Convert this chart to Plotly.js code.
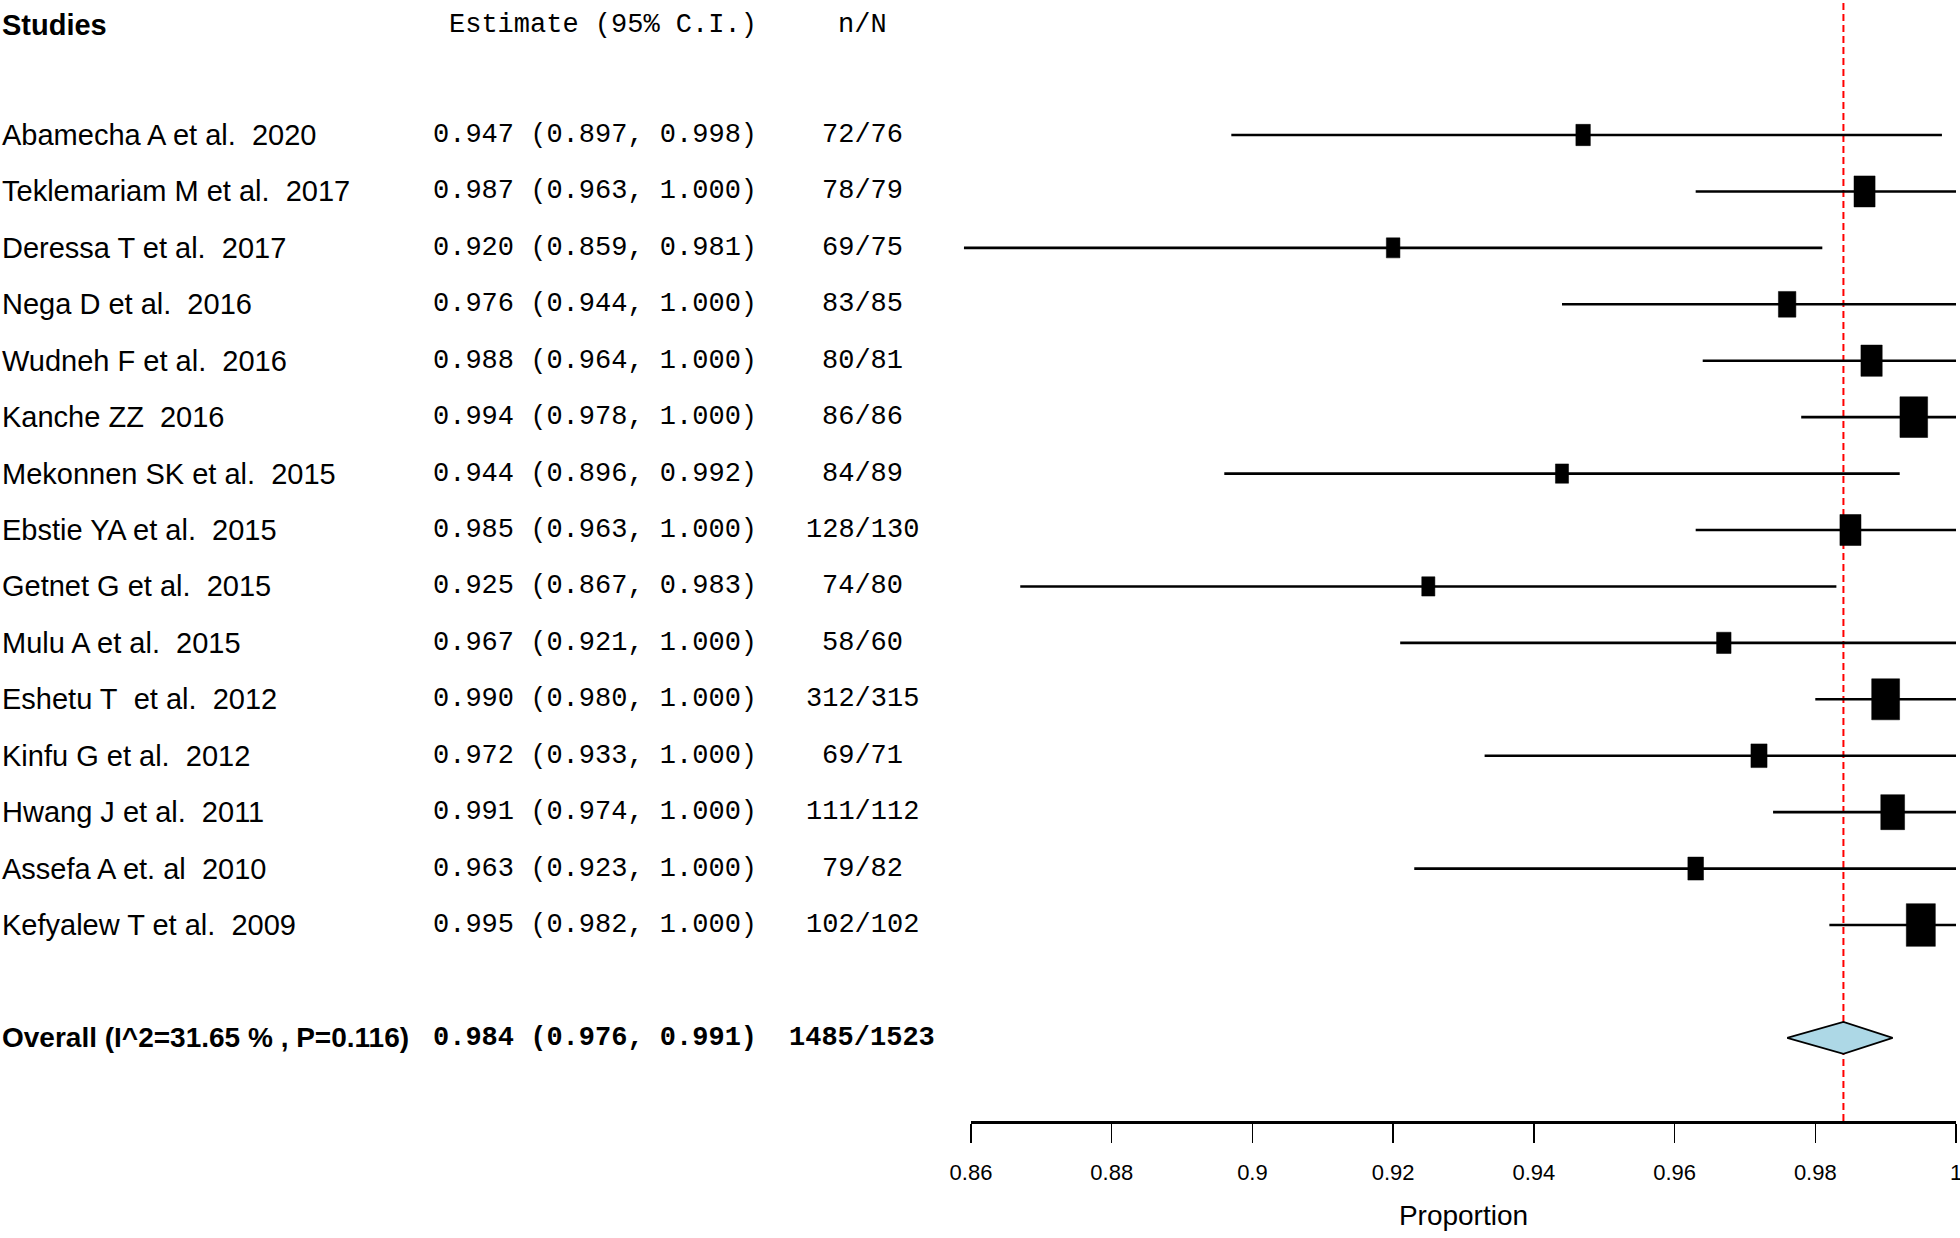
<!DOCTYPE html>
<html>
<head>
<meta charset="utf-8">
<script src="https://cdn.plot.ly/plotly-3.0.1.min.js"></script>
<style>
html, body { margin: 0; padding: 0; background: #ffffff; }
#chart { width: 1960px; height: 1238px; }
</style>
</head>
<body>
<div id="chart"></div>
<script>
// ---------------- data ----------------
const studies = [
  "Abamecha A et al.\u00a0 2020",
  "Teklemariam M et al.\u00a0 2017",
  "Deressa T et al.\u00a0 2017",
  "Nega D et al.\u00a0 2016",
  "Wudneh F et al.\u00a0 2016",
  "Kanche ZZ\u00a0 2016",
  "Mekonnen SK et al.\u00a0 2015",
  "Ebstie YA et al.\u00a0 2015",
  "Getnet G et al.\u00a0 2015",
  "Mulu A et al.\u00a0 2015",
  "Eshetu T\u00a0 et al.\u00a0 2012",
  "Kinfu G et al.\u00a0 2012",
  "Hwang J et al.\u00a0 2011",
  "Assefa A et. al\u00a0 2010",
  "Kefyalew T et al.\u00a0 2009"
];
const estimate = [0.947, 0.987, 0.920, 0.976, 0.988, 0.994, 0.944, 0.985, 0.925, 0.967, 0.990, 0.972, 0.991, 0.963, 0.995];
const lower    = [0.897, 0.963, 0.859, 0.944, 0.964, 0.978, 0.896, 0.963, 0.867, 0.921, 0.980, 0.933, 0.974, 0.923, 0.982];
const upper    = [0.998, 1.000, 0.981, 1.000, 1.000, 1.000, 0.992, 1.000, 0.983, 1.000, 1.000, 1.000, 1.000, 1.000, 1.000];
const events   = [72, 78, 69, 83, 80, 86, 84, 128, 74, 58, 312, 69, 111, 79, 102];
const totals   = [76, 79, 75, 85, 81, 86, 89, 130, 80, 60, 315, 71, 112, 82, 102];
// relative study weight (box size)
const boxWeight = [21.3, 31, 20, 25.7, 31.3, 40.7, 19.3, 31, 19.3, 21.3, 41, 23.7, 35, 23, 42.7];

const overallLabel = "Overall (I^2=31.65 % , P=0.116)";
const overallEst = 0.984;
const overallLo = 0.976;
const overallHi = 0.991;
const overallEvents = 1485;
const overallTotal = 1523;

const tickVals = [0.86, 0.88, 0.90, 0.92, 0.94, 0.96, 0.98, 1.00];
const tickText = ["0.86", "0.88", "0.9", "0.92", "0.94", "0.96", "0.98", "1"];

const headerStudies = "Studies";
const headerEstimate = "Estimate (95% C.I.)";
const headerN = "n/N";
const xTitle = "Proportion";

// ---------------- layout helpers (styles / positions) ----------------
const W = 1960, H = 1238;
const rows = studies.map((_, i) => i + 1);
const overallRow = studies.length + 2;
const headerRow = -0.95;

const sans = "Liberation Sans, Arial, Helvetica, sans-serif";
const mono = "Liberation Mono, Courier New, DejaVu Sans Mono, monospace";

const fmt = v => v.toFixed(3);
const estText = (e, l, u) => fmt(e) + " (" + fmt(l) + ", " + fmt(u) + ")";

// pixel mapping
const px0 = 971, px1 = 1956;            // 0.86 and 1.0
const pxPerUnit = (px1 - px0) / 0.14;
const xMin = 0.86 - px0 / pxPerUnit;
const xMax = 0.86 + (W - px0) / pxPerUnit;
const rowPx = 56.43, row1Px = 135, axisPx = 1121;
const yTop = 1 - row1Px / rowPx;
const yBot = 1 + (axisPx - row1Px) / rowPx;
const yDomBottom = (H - axisPx) / H;

// CI lines
const ciX = [], ciY = [];
for (let i = 0; i < studies.length; i++) {
  ciX.push(lower[i], upper[i], null);
  ciY.push(rows[i], rows[i], null);
}
const ciTrace = {
  type: "scatter", mode: "lines", x: ciX, y: ciY, xaxis: "x", yaxis: "y",
  line: { color: "#000000", width: 2.6 }, hoverinfo: "skip", showlegend: false
};

// weight boxes (rectangles, taller than wide, size from study weight)
const boxX = [], boxY = [];
for (let i = 0; i < studies.length; i++) {
  const hw = boxWeight[i] * 0.68 / 2 / pxPerUnit;
  const hh = boxWeight[i] / 2 / rowPx;
  const e = estimate[i], r = rows[i];
  boxX.push(e - hw, e + hw, e + hw, e - hw, e - hw, null);
  boxY.push(r - hh, r - hh, r + hh, r + hh, r - hh, null);
}
const boxTrace = {
  type: "scatter", mode: "lines", x: boxX, y: boxY, xaxis: "x", yaxis: "y",
  fill: "toself", fillcolor: "#000000",
  line: { color: "#000000", width: 0.5 },
  hoverinfo: "skip", showlegend: false
};

const dh = 16 / rowPx;
const diamondTrace = {
  type: "scatter", mode: "lines", xaxis: "x2", yaxis: "y",
  x: [overallLo, overallEst, overallHi, overallEst, overallLo],
  y: [overallRow, overallRow - dh, overallRow, overallRow + dh, overallRow],
  fill: "toself", fillcolor: "#add8e6",
  line: { color: "#000000", width: 1.6 },
  hoverinfo: "skip", showlegend: false
};

const annotations = [];
function addText(text, xPx, row, anchor, font) {
  annotations.push({
    text: text, xref: "paper", yref: "y", x: xPx / W, y: row,
    xanchor: anchor, yanchor: "middle", showarrow: false, font: font
  });
}
const nameFont = { family: sans, size: 29, color: "#000000" };
const overallFont = { family: sans, size: 28, color: "#000000" };
const monoFont = { family: mono, size: 27, color: "#000000" };

addText("<b>" + headerStudies + "</b>", 0, headerRow, "left", nameFont);
addText(headerEstimate, 759, headerRow, "right", monoFont);
addText(headerN, 862, headerRow, "center", monoFont);
for (let i = 0; i < studies.length; i++) {
  addText(studies[i], 0, rows[i], "left", nameFont);
  addText(estText(estimate[i], lower[i], upper[i]), 759, rows[i], "right", monoFont);
  addText(events[i] + "/" + totals[i], 862, rows[i], "center", monoFont);
}
addText("<b>" + overallLabel + "</b>", 0, overallRow, "left", overallFont);
addText("<b>" + estText(overallEst, overallLo, overallHi) + "</b>", 759, overallRow, "right", monoFont);
addText("<b>" + overallEvents + "/" + overallTotal + "</b>", 862, overallRow, "center", monoFont);

const layout = {
  width: W, height: H,
  margin: { l: 0, r: 0, t: 0, b: 0, pad: 0 },
  paper_bgcolor: "#ffffff",
  plot_bgcolor: "rgba(0,0,0,0)",
  showlegend: false,
  xaxis: {
    domain: [0, 1], range: [xMin, xMax], anchor: "y",
    visible: false, fixedrange: true
  },
  xaxis2: {
    domain: [px0 / W, px1 / W], range: [0.86, 1.0], anchor: "y",
    showline: true, linecolor: "#000000", linewidth: 2.5,
    ticks: "outside", ticklen: 19, tickwidth: 1.5, tickcolor: "#000000",
    tickmode: "array", tickvals: tickVals, ticktext: tickText,
    tickfont: { family: sans, size: 22, color: "#000000" },
    ticklabelstandoff: 11, ticklabeloverflow: "allow",
    showgrid: false, zeroline: false, fixedrange: true,
    title: { text: xTitle, font: { family: sans, size: 28, color: "#000000" }, standoff: 22 }
  },
  yaxis: {
    domain: [yDomBottom, 1], range: [yBot, yTop], anchor: "x",
    visible: false, fixedrange: true
  },
  shapes: [{
    type: "line", xref: "x", yref: "paper",
    x0: overallEst, x1: overallEst, y0: yDomBottom, y1: 1,
    line: { color: "#ff0000", width: 2, dash: "7px,4px" },
    layer: "below"
  }],
  annotations: annotations
};

Plotly.newPlot("chart", [ciTrace, boxTrace, diamondTrace], layout, { displayModeBar: false, staticPlot: true });
</script>
</body>
</html>
